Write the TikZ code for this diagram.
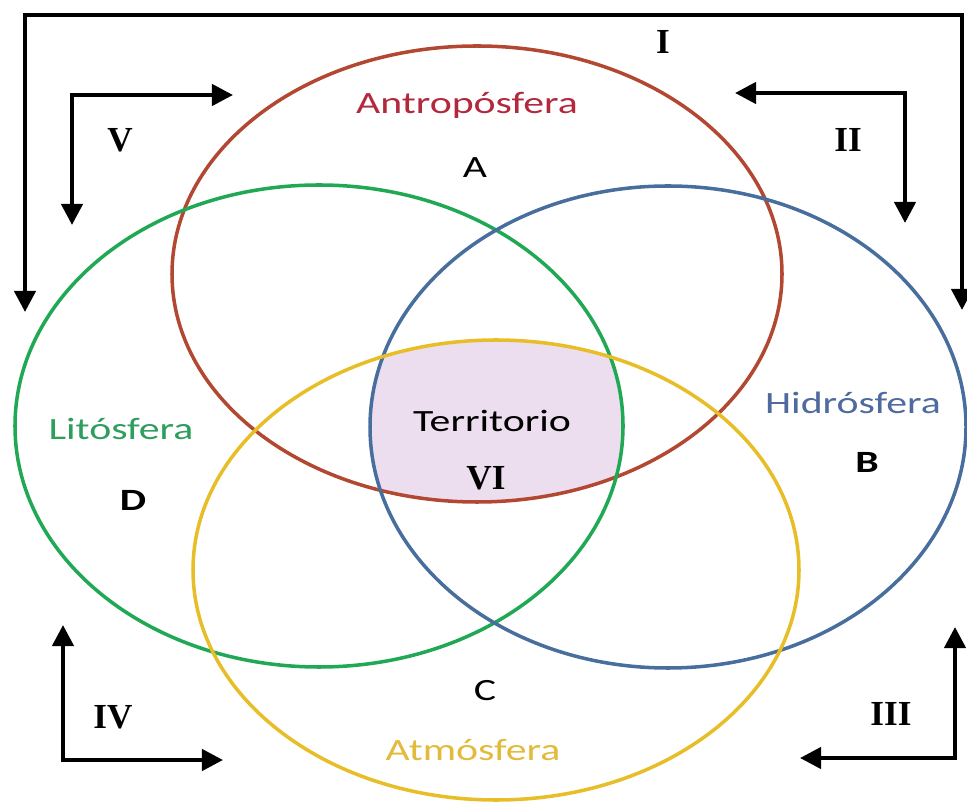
\documentclass[tikz,border=0pt]{standalone}
\usepackage{fontspec}
\setmainfont{Liberation Serif}
\newfontfamily\lblfont{Carlito}
\usetikzlibrary{arrows.meta}

\definecolor{antrored}{RGB}{178,72,50}
\definecolor{litogreen}{RGB}{32,168,84}
\definecolor{hidroblue}{RGB}{72,110,158}
\definecolor{atmoyellow}{RGB}{232,190,40}
\definecolor{terrpink}{RGB}{236,222,238}
\definecolor{antrotext}{RGB}{178,40,60}
\definecolor{hidrotext}{RGB}{78,106,158}
\definecolor{litotext}{RGB}{46,158,94}
\definecolor{atmotext}{RGB}{226,186,60}

\begin{document}
\begin{tikzpicture}[
    x=0.01cm, y=-0.01cm,
    sphere/.style={line width=1pt},
    arrstyle/.style={{Triangle[length=6pt,width=6pt]}-{Triangle[length=6pt,width=6pt]},
        line width=1.2pt, black},
    sphlabel/.style={font=\lblfont\fontsize{8.8}{10}\selectfont, xscale=1.35, transform shape, inner sep=0pt},
    numlabel/.style={font=\fontsize{10}{12}\selectfont\bfseries, inner sep=0pt},
]
\useasboundingbox (0,0) rectangle (967,807);

% ---- Centres of the four spheres ----
\coordinate (antro) at (477,274);
\coordinate (lito)  at (319,426);
\coordinate (hidro) at (668,427);
\coordinate (atmo)  at (496,570);

% ---- Territorio: common part ----
\begin{scope}
    \clip (antro) ellipse [x radius=305, y radius=228];
    \clip (lito) ellipse [x radius=304, y radius=241];
    \clip (hidro) ellipse [x radius=298, y radius=241];
    \fill[terrpink] (atmo) ellipse [x radius=303, y radius=230];
\end{scope}

% ---- Spheres ----
\draw[sphere, antrored]   (antro) ellipse [x radius=305, y radius=228];
\draw[sphere, litogreen]  (lito)  ellipse [x radius=304, y radius=241];
\draw[sphere, hidroblue]  (hidro) ellipse [x radius=298, y radius=241];
\draw[sphere, atmoyellow] (atmo)  ellipse [x radius=303, y radius=230];

% ---- Sphere labels ----
\node[sphlabel, text=antrotext] (antrolbl) at (467,105) {Antropósfera};
\node[sphlabel] (alet) at (475,168) {A};
\node[sphlabel, text=hidrotext] (hidrolbl) at (853,403) {Hidrósfera};
\node[sphlabel, font=\lblfont\fontsize{8.8}{10}\selectfont\bfseries] (blet) at (867,462) {B};
\node[sphlabel, text=litotext] (litolbl) at (121,429) {Litósfera};
\node[sphlabel, font=\lblfont\fontsize{8.8}{10}\selectfont\bfseries] (dlet) at (133,500) {D};
\node[sphlabel] (clet) at (485,691) {C};
\node[sphlabel, text=atmotext] (atmolbl) at (473,750) {Atmósfera};
\node[sphlabel] (terrlbl) at (492,421) {Territorio};

% ---- Relation arrows ----
\coordinate (iL) at (25,312);
\coordinate (iT) at (490,15);
\coordinate (iR) at (962,310);
\draw[arrstyle] (iL) |- (iT) -| (iR);

\coordinate (vD) at (72,225);
\coordinate (vR) at (233,95);
\draw[arrstyle] (vD) |- (vR);

\coordinate (iiD) at (905,223);
\coordinate (iiL) at (735,93);
\draw[arrstyle] (iiD) |- (iiL);

\coordinate (ivU) at (63,625);
\coordinate (ivR) at (223,760);
\draw[arrstyle] (ivU) |- (ivR);

\coordinate (iiiU) at (955,627);
\coordinate (iiiL) at (800,758);
\draw[arrstyle] (iiiU) |- (iiiL);

% ---- Numerals ----
\node[numlabel] (nI)   at (663,42)  {I};
\node[numlabel] (nII)  at (848,140) {II};
\node[numlabel] (nIII) at (891,714) {III};
\node[numlabel] (nIV)  at (113,717) {IV};
\node[numlabel] (nV)   at (120,140) {V};
\node[numlabel] (nVI)  at (486,478) {VI};

\end{tikzpicture}
\end{document}
